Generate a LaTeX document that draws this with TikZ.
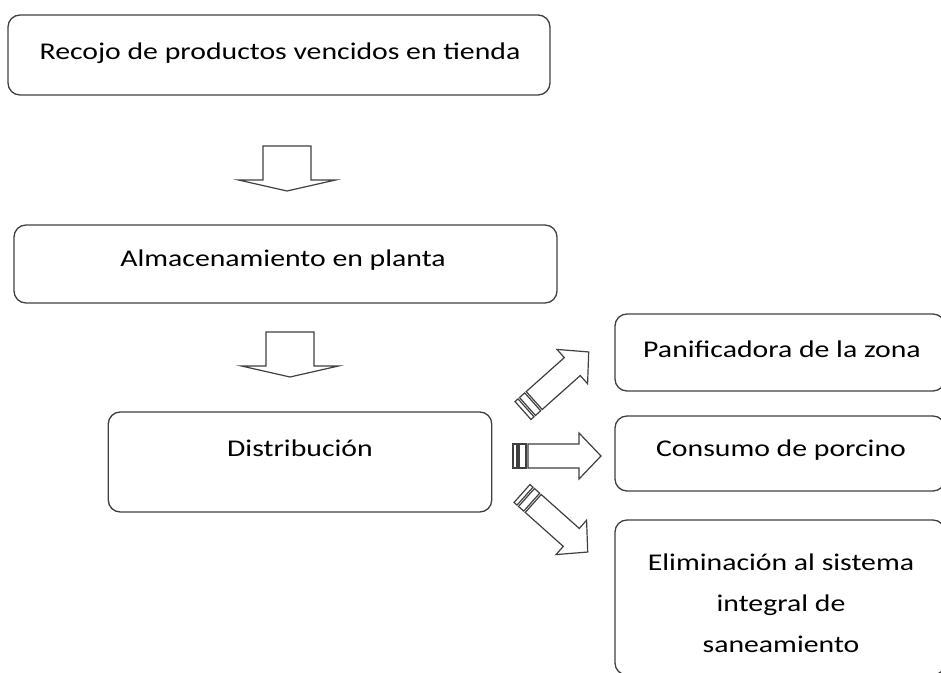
\documentclass[tikz,border=0pt]{standalone}
\usepackage{fontspec}
\setmainfont{Carlito}[FakeStretch=1.24]

\begin{document}
\begin{tikzpicture}[x=0.75pt,y=-0.75pt,
  box/.style={draw=black!75, line width=1pt, rounded corners=9pt, inner sep=0pt},
  txt/.style={font=\fontsize{18}{30.75}\selectfont, align=center, inner sep=0pt},
  blk/.style={draw=black!75, line width=0.9pt, fill=white, line join=miter}]
\useasboundingbox (0,0) rectangle (941,673);
\clip (0,0) rectangle (941,673);

% left column
\node[box, minimum width=406.5pt, minimum height=60pt] (recojo) at (279,55) {};
\node[txt] (recojoT) at (280,53) {Recojo de productos vencidos en tienda};
\node[box, minimum width=407.25pt, minimum height=58.5pt] (almacen) at (285.5,264) {};
\node[txt] (almacenT) at (283,260) {Almacenamiento en planta};
\node[box, minimum width=287.6pt, minimum height=75pt] (distrib) at (300,462) {};
\node[txt] (distribT) at (300,448) {Distribución};

% right column (cut off at the page edge)
\node[box, minimum width=247.5pt, minimum height=57.75pt] (pani) at (780,352.5) {};
\node[txt] (paniT) at (782,349) {Panificadora de la zona};
\node[box, minimum width=247.5pt, minimum height=56.25pt] (consumo) at (780,453.5) {};
\node[txt] (consumoT) at (781,450) {Consumo de porcino};
\node[box, minimum width=247.5pt, minimum height=116.25pt] (elim) at (780,597.5) {};
\node[txt] (elimT) at (781,603) {Eliminación al sistema\\ integral de\\ saneamiento};

% down block arrows
\coordinate (down1) at (287,146);
\coordinate (down2) at (290,332);
\foreach \c in {down1,down2}
  \draw[blk] (\c) ++(-24,0) -- ++(48,0) -- ++(0,34) -- ++(24.5,0) -- ++(-48.5,11)
    -- ++(-48.5,-11) -- ++(24.5,0) -- cycle;

% striped arrows out of Distribucion
\coordinate (tail1) at (523,410.5);
\coordinate (tail2) at (513,456);
\coordinate (tail3) at (522,493.5);
\foreach \c/\a in {tail1/41.7, tail2/0, tail3/-41.7}{
  \begin{scope}[shift={(\c)}, rotate=\a]
    \draw[blk] (0,-12) rectangle (4,12);
    \draw[blk] (6,-12) rectangle (13,12);
    \draw[blk] (15,-12) -- (66,-12) -- (66,-23) -- (88,0) -- (66,23) -- (66,12)
      -- (15,12) -- cycle;
  \end{scope}
}
\end{tikzpicture}
\end{document}
